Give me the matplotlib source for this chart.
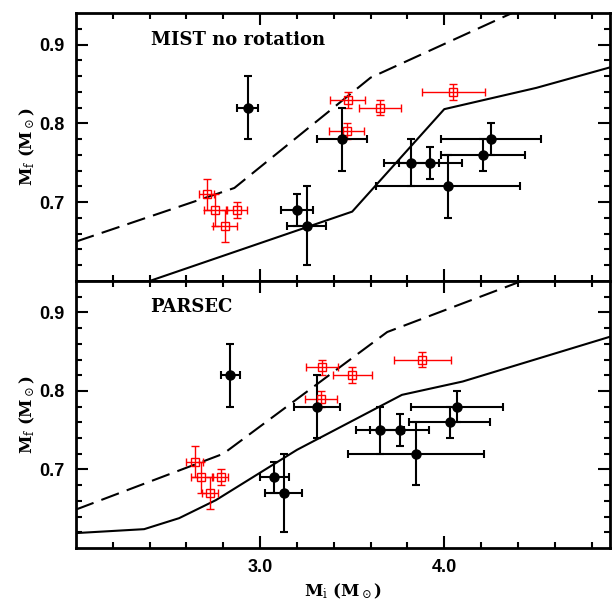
import numpy as np
import matplotlib
matplotlib.use("Agg")
import matplotlib.pyplot as plt
from matplotlib.ticker import FixedLocator

# Final mass values (same in both panels)
mf_black = [0.82, 0.69, 0.67, 0.78, 0.75, 0.75, 0.72, 0.76, 0.78]
mf_black_err = [0.04, 0.02, 0.05, 0.04, 0.03, 0.02, 0.04, 0.02, 0.02]
mf_red = [0.71, 0.69, 0.67, 0.69, 0.83, 0.82, 0.79, 0.84]
mf_red_err = [0.02, 0.02, 0.02, 0.01, 0.01, 0.01, 0.01, 0.01]

# Initial masses, MIST no rotation
mi_black_mist = [2.934, 3.199, 3.253, 3.444, 3.82, 3.925, 4.02, 4.21, 4.253]
mi_black_mist_err = [0.057, 0.087, 0.105, 0.135, 0.15, 0.17, 0.39, 0.23, 0.27]
mi_red_mist = [2.709, 2.754, 2.808, 2.875, 3.476, 3.65, 3.47, 4.05]
mi_red_mist_err = [0.043, 0.058, 0.065, 0.054, 0.095, 0.115, 0.095, 0.17]

# Initial masses, PARSEC
mi_black_parsec = [2.838, 3.078, 3.129, 3.307, 3.65, 3.758, 3.848, 4.03, 4.07]
mi_black_parsec_err = [0.05, 0.08, 0.1, 0.125, 0.13, 0.16, 0.37, 0.22, 0.25]
mi_red_parsec = [2.645, 2.681, 2.728, 2.785, 3.336, 3.5, 3.33, 3.88]
mi_red_parsec_err = [0.045, 0.058, 0.045, 0.043, 0.087, 0.105, 0.087, 0.155]

# model IFMR curves
mist_solid_x = [2.0, 3.5, 4.0, 4.5, 4.9]
mist_solid_y = [0.568, 0.688, 0.818, 0.845, 0.871]
mist_dash_x = [2.0, 2.86, 3.6, 4.5]
mist_dash_y = [0.650, 0.718, 0.858, 0.954]

parsec_solid_x = [2.0, 2.37, 2.56, 2.76, 3.2, 3.77, 4.1, 4.9]
parsec_solid_y = [0.619, 0.624, 0.638, 0.661, 0.725, 0.795, 0.812, 0.869]
parsec_dash_x = [2.0, 2.8, 3.69, 4.41, 4.9]
parsec_dash_y = [0.649, 0.72, 0.875, 0.939, 0.983]

plt.rcParams['mathtext.fontset'] = 'dejavuserif'

fig = plt.figure(figsize=(6.12, 6.04), dpi=100)
ax1 = fig.add_axes([0.1242, 0.5348, 0.8725, 0.4437])
ax2 = fig.add_axes([0.1242, 0.0927, 0.8725, 0.4421])

panels = [
    (ax1, "MIST no rotation", mi_black_mist, mi_black_mist_err, mi_red_mist, mi_red_mist_err,
     mist_solid_x, mist_solid_y, mist_dash_x, mist_dash_y),
    (ax2, "PARSEC", mi_black_parsec, mi_black_parsec_err, mi_red_parsec, mi_red_parsec_err,
     parsec_solid_x, parsec_solid_y, parsec_dash_x, parsec_dash_y),
]

for ax, name, bx, bxe, rx, rxe, sx, sy, dx, dy in panels:
    ax.plot(sx, sy, color='black', lw=1.5)
    ax.plot(dx, dy, color='black', lw=1.5, linestyle=(0, (9, 4)))
    ax.errorbar(rx, mf_red, xerr=rxe, yerr=mf_red_err, fmt='s', mfc='none', mec='red',
                ms=5.2, mew=1.0, ecolor='red', elinewidth=1.0, capsize=3, capthick=1.0)
    ax.errorbar(bx, mf_black, xerr=bxe, yerr=mf_black_err, fmt='o', color='black',
                ms=6.5, elinewidth=1.5, capsize=3.2, capthick=1.5)
    ax.text(2.405, 0.9, name, family='DejaVu Serif', fontsize=13, fontweight='bold',
            va='baseline', ha='left')

    ax.set_xlim(2.0, 4.9)
    ax.set_ylim(0.6, 0.94)
    ax.xaxis.set_major_locator(FixedLocator([3.0, 4.0]))
    ax.xaxis.set_minor_locator(FixedLocator([2.2, 2.4, 2.6, 2.8, 3.2, 3.4, 3.6, 3.8,
                                             4.2, 4.4, 4.6, 4.8]))
    ax.yaxis.set_major_locator(FixedLocator([0.7, 0.8, 0.9]))
    ax.yaxis.set_minor_locator(FixedLocator(np.arange(0.62, 0.94, 0.02)))
    ax.tick_params(which='both', direction='in', top=True, right=True, width=1.5)
    ax.tick_params(which='major', length=8.5, pad=8, labelsize=13)
    ax.tick_params(which='minor', length=4.3)
    ax.xaxis.set_major_formatter(plt.FuncFormatter(lambda v, p: f"{v:.1f}"))
    ax.yaxis.set_major_formatter(plt.FuncFormatter(lambda v, p: f"{v:.1f}"))
    for lab in ax.get_xticklabels() + ax.get_yticklabels():
        lab.set_family('Liberation Sans')
        lab.set_fontweight('bold')
    for s in ax.spines.values():
        s.set_linewidth(2)
    ax.set_ylabel(r"M$_\mathrm{f}$ (M$_\odot$)", family='DejaVu Serif', fontsize=12,
                  fontweight='bold', labelpad=2)

ax1.tick_params(labelbottom=False)
ax2.set_xlabel(r"M$_\mathrm{i}$ (M$_\odot$)", family='DejaVu Serif', fontsize=12,
               fontweight='bold', labelpad=4)

fig.savefig("out.png", dpi=100)
